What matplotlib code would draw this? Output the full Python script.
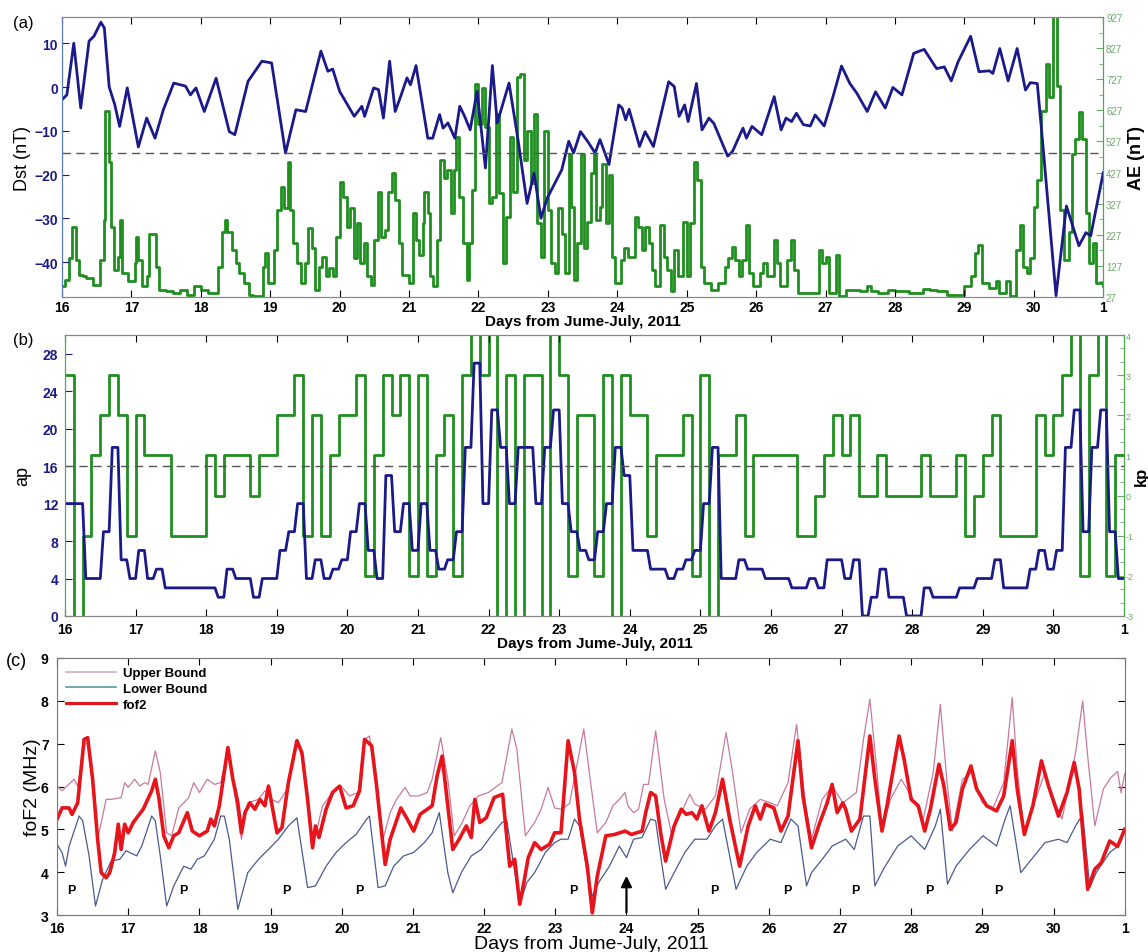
import matplotlib
matplotlib.use('Agg')
import matplotlib.pyplot as plt
import numpy as np
from matplotlib.ticker import FixedLocator, MultipleLocator
from matplotlib.lines import Line2D

plt.rcParams['font.family'] = ['Liberation Sans', 'DejaVu Sans']

# ---------------- data ----------------
day_ticks = list(range(16, 32))
day_labels = [str(d) for d in range(16, 31)] + ['1']

dst_pts = [(16.0, -2.9), (16.07, -1.8), (16.17, 10), (16.27, -4.8), (16.39, 10.5), (16.46, 11.6), (16.56, 14.8),
           (16.61, 13.5), (16.68, 0), (16.76, -4), (16.83, -9), (16.94, -0.2), (17.1, -13.7), (17.22, -7.1),
           (17.34, -11.7), (17.46, -5.2), (17.61, 0.9), (17.78, 0.2), (17.85, -1.8), (17.93, -0.2), (18.05, -5.6),
           (18.22, 2), (18.41, -10.2), (18.49, -10.9), (18.68, 1.3), (18.88, 5.9), (19.02, 5.5), (19.22, -15.1),
           (19.37, -5.2), (19.51, -5.6), (19.73, 8.2), (19.83, 3.6), (19.9, 4.1), (20.0, -1), (20.21, -6.7),
           (20.32, -4.4), (20.36, -6.7), (20.49, -0.2), (20.56, -0.6), (20.63, -7.1), (20.72, 5.9), (20.8, -5.6),
           (20.88, -2.1), (20.97, 2.1), (21.02, 0.5), (21.1, 4.9), (21.27, -11.7), (21.34, -11.7), (21.44, -6.3),
           (21.49, -9.4), (21.56, -8.2), (21.66, -11.7), (21.73, -4.4), (21.8, -6.7), (21.88, -9.8), (21.98, -1),
           (22.1, -18.5), (22.2, 4.9), (22.27, -8.2), (22.44, 0.9), (22.57, -12.1), (22.7, -26.6), (22.8, -19.7),
           (22.9, -30), (22.99, -25.4), (23.2, -18.9), (23.3, -12.4), (23.37, -15.1), (23.47, -10.2), (23.58, -12.6),
           (23.68, -15.1), (23.75, -12), (23.88, -17.7), (24.02, -4.1), (24.07, -4.8), (24.12, -7.5), (24.17, -5.1),
           (24.32, -13.6), (24.4, -10.2), (24.52, -13.6), (24.74, 1.2), (24.82, 0.1), (24.89, -6.7), (24.97, -4.1),
           (25.02, -7.9), (25.14, 0.8), (25.22, -9.8), (25.32, -7.1), (25.39, -8.3), (25.59, -15.8), (25.66, -14.7),
           (25.81, -9.4), (25.86, -11.7), (25.94, -9), (26.08, -10.9), (26.26, -2.2), (26.36, -9.8), (26.43, -7.1),
           (26.51, -7.9), (26.58, -6), (26.68, -8.6), (26.78, -8.9), (26.85, -6.4), (26.98, -8.9), (27.1, -2.6),
           (27.23, 4.8), (27.35, 0.8), (27.45, -1.4), (27.6, -5.6), (27.72, -1.1), (27.86, -4.8), (27.97, -0.1),
           (28.1, -1.8), (28.27, 7.7), (28.42, 8.6), (28.6, 4.2), (28.71, 4.6), (28.81, 1.4), (28.91, 5.8),
           (29.09, 11.6), (29.21, 3.5), (29.36, 3.7), (29.41, 3.1), (29.51, 8.8), (29.63, 1.4), (29.76, 8.8),
           (29.88, -0.7), (29.95, 1), (30.05, 0.8), (30.12, -11.3), (30.32, -47.7), (30.47, -27.2), (30.65, -36.3),
           (30.75, -33.3), (30.82, -34), (31.0, -19.6)]

ae_pts = [(16.0, 61), (16.05, 82), (16.1, 152), (16.15, 253), (16.2, 146), (16.25, 98), (16.3, 93), (16.35, 88),
          (16.45, 66), (16.55, 146), (16.6, 274), (16.62, 626), (16.67, 461), (16.7, 253), (16.75, 114), (16.8, 157),
          (16.83, 274), (16.87, 104), (16.95, 77), (17.05, 136), (17.07, 221), (17.1, 146), (17.15, 61), (17.22, 93),
          (17.25, 231), (17.35, 125), (17.4, 50), (17.5, 45), (17.6, 40), (17.7, 48), (17.8, 35), (17.9, 61),
          (18.0, 50), (18.1, 40), (18.25, 125), (18.3, 237), (18.35, 274), (18.38, 237), (18.45, 178), (18.5, 136),
          (18.55, 104), (18.62, 72), (18.7, 34), (18.75, 31), (18.9, 125), (18.93, 168), (18.97, 72), (19.05, 178),
          (19.1, 306), (19.15, 381), (19.2, 312), (19.25, 461), (19.28, 306), (19.33, 200), (19.38, 136), (19.45, 72),
          (19.5, 136), (19.55, 248), (19.6, 184), (19.65, 50), (19.7, 125), (19.75, 157), (19.8, 93), (19.85, 120),
          (19.9, 93), (19.95, 221), (20.0, 397), (20.05, 349), (20.1, 253), (20.15, 312), (20.2, 152), (20.25, 264),
          (20.3, 136), (20.35, 200), (20.4, 93), (20.45, 66), (20.5, 210), (20.55, 365), (20.6, 221), (20.65, 242),
          (20.7, 365), (20.75, 424), (20.8, 338), (20.85, 200), (20.9, 98), (21.0, 72), (21.05, 296), (21.1, 210),
          (21.15, 162), (21.2, 264), (21.22, 365), (21.27, 296), (21.3, 93), (21.35, 61), (21.4, 210), (21.45, 466),
          (21.5, 408), (21.55, 434), (21.6, 296), (21.65, 434), (21.68, 541), (21.72, 349), (21.78, 200), (21.83, 82),
          (21.87, 200), (21.9, 370), (21.95, 711), (22.0, 583), (22.05, 700), (22.1, 573), (22.15, 328), (22.2, 349),
          (22.25, 615), (22.3, 360), (22.35, 136), (22.4, 285), (22.45, 541), (22.5, 365), (22.55, 733), (22.6, 743),
          (22.65, 466), (22.7, 562), (22.75, 392), (22.8, 615), (22.85, 264), (22.9, 157), (22.95, 562), (23.0, 306),
          (23.05, 136), (23.1, 104), (23.15, 312), (23.2, 231), (23.25, 104), (23.3, 487), (23.33, 317), (23.37, 82),
          (23.42, 200), (23.47, 487), (23.52, 184), (23.57, 269), (23.62, 424), (23.67, 487), (23.7, 274),
          (23.75, 317), (23.78, 456), (23.83, 264), (23.88, 418), (23.92, 157), (23.97, 72), (24.05, 146),
          (24.1, 184), (24.15, 157), (24.25, 285), (24.3, 253), (24.35, 178), (24.4, 253), (24.45, 200), (24.5, 114),
          (24.55, 61), (24.62, 258), (24.67, 157), (24.72, 114), (24.77, 45), (24.82, 178), (24.87, 93), (24.95, 269),
          (25.0, 93), (25.05, 264), (25.1, 461), (25.15, 402), (25.2, 125), (25.25, 72), (25.35, 50), (25.45, 72),
          (25.55, 125), (25.6, 152), (25.65, 189), (25.7, 146), (25.75, 93), (25.8, 146), (25.85, 258), (25.9, 104),
          (25.95, 61), (26.05, 104), (26.1, 136), (26.15, 93), (26.25, 210), (26.3, 136), (26.35, 61), (26.45, 146),
          (26.5, 210), (26.55, 114), (26.6, 40), (26.9, 178), (26.95, 136), (27.0, 157), (27.05, 40), (27.15, 162),
          (27.2, 29), (27.3, 50), (27.5, 45), (27.6, 61), (27.65, 45), (27.75, 40), (27.9, 50), (28.0, 45),
          (28.2, 40), (28.4, 52), (28.5, 50), (28.6, 45), (28.75, 34), (29.0, 61), (29.1, 93), (29.15, 168),
          (29.2, 194), (29.25, 72), (29.35, 56), (29.45, 77), (29.5, 40), (29.6, 77), (29.65, 29), (29.75, 178),
          (29.8, 258), (29.85, 125), (29.9, 104), (29.95, 152), (30.0, 317), (30.05, 402), (30.1, 626), (30.17, 775),
          (30.22, 669), (30.27, 950), (30.33, 706), (30.38, 306), (30.43, 146), (30.5, 237), (30.55, 487),
          (30.6, 535), (30.65, 621), (30.7, 535), (30.75, 296), (30.8, 136), (30.85, 200), (30.9, 72), (31.0, 61)]

# 3-hourly ap and kp (from 16.0, one value per 3 h)
ap_vals = [12, 12, 4, 4, 9, 18, 6, 4,
           7, 4, 5, 3, 3, 3, 3, 3,
           3, 2, 5, 4, 4, 2, 4, 4,
           7, 9, 12, 4, 6, 4, 5, 6,
           9, 12, 7, 4, 15, 9, 12, 7,
           12, 7, 5, 6, 9, 18, 27, 12,
           22, 18, 12, 18, 18, 12, 18, 22,
           12, 9, 7, 6, 9, 12, 18, 15,
           7, 7, 5, 5, 4, 5, 6, 7,
           12, 18, 4, 4, 6, 5, 5, 4,
           4, 4, 3, 3, 4, 3, 6, 6,
           4, 6, 0, 2, 5, 2, 2, 0,
           0, 3, 2, 2, 2, 3, 3, 4,
           4, 6, 3, 3, 3, 5, 7, 5,
           7, 18, 22, 9, 18, 22, 9, 4]

kp_vals = [3, -4, -1, 1, 2, 3, 2, -1,
           2, 1, 1, 1, -1, -1, -1, -1,
           1, 0, 1, 1, 1, 0, 1, 1,
           2, 2, 3, -1, 2, -1, 1, 2,
           2, 3, -2, 1, 3, 2, 3, -2,
           3, -2, 1, 2, -2, 3, 5, 3,
           5, -4, 3, -4, 3, 3, -4, 5,
           3, -2, 2, 2, -2, 3, -4, 3,
           2, 2, -1, 1, 1, 1, 2, -2,
           3, -4, 1, 1, 2, -1, 1, 1,
           1, 1, 1, -1, -1, 0, 1, 2,
           1, 2, 0, 0, 1, 0, 0, 0,
           0, 1, 0, 0, 0, 1, -1, 0,
           1, 2, -1, -1, -1, -1, 2, 1,
           2, 3, 5, -2, 3, 5, -2, 1]
kp_ticks = [-3, -2, -1, 0, 1, 2, 3, 4]
kp_labels = ['-3', '-2', '-1', '0', '1', '2', '3', '4']

fof2_pts = [(16.0, 5.24), (16.07, 5.5), (16.17, 5.5), (16.21, 5.35), (16.29, 5.62), (16.38, 7.1), (16.43, 7.14),
            (16.5, 6.17), (16.57, 4.77), (16.62, 3.99), (16.69, 3.87), (16.74, 3.99), (16.81, 4.46), (16.86, 5.12),
            (16.9, 4.53), (16.95, 5.12), (17.0, 4.92), (17.07, 5.16), (17.21, 5.47), (17.33, 5.9), (17.38, 6.17),
            (17.43, 5.74), (17.5, 4.85), (17.57, 4.57), (17.64, 4.85), (17.71, 4.92), (17.83, 5.39), (17.9, 4.96),
            (18.0, 4.85), (18.11, 4.96), (18.16, 5.24), (18.21, 5.08), (18.28, 5.55), (18.4, 6.91), (18.47, 6.17),
            (18.54, 5.62), (18.59, 4.92), (18.64, 5.39), (18.71, 5.62), (18.78, 5.47), (18.85, 5.7), (18.92, 5.55),
            (18.97, 6.01), (19.02, 5.55), (19.09, 4.92), (19.16, 5.04), (19.25, 6.09), (19.37, 7.07), (19.44, 6.79),
            (19.52, 5.7), (19.59, 4.57), (19.63, 5.08), (19.68, 4.81), (19.78, 5.47), (19.87, 5.86), (19.97, 6.01),
            (20.06, 5.5), (20.16, 5.55), (20.25, 5.9), (20.32, 7.1), (20.42, 6.95), (20.49, 6.01), (20.56, 4.92),
            (20.61, 4.18), (20.68, 4.77), (20.83, 5.5), (20.92, 5.24), (21.01, 4.96), (21.1, 5.35), (21.27, 5.55),
            (21.34, 6.25), (21.41, 6.71), (21.49, 5.55), (21.56, 4.53), (21.65, 4.77), (21.75, 5.08), (21.82, 4.81),
            (21.87, 5.7), (21.94, 5.16), (22.03, 5.27), (22.14, 5.74), (22.26, 5.82), (22.31, 4.96), (22.36, 4.14),
            (22.43, 4.3), (22.5, 3.25), (22.55, 3.68), (22.62, 4.34), (22.71, 4.69), (22.8, 4.53), (22.92, 4.65),
            (22.99, 4.92), (23.08, 4.92), (23.18, 7.07), (23.27, 6.33), (23.34, 5.24), (23.45, 4.14), (23.52, 3.05),
            (23.59, 3.91), (23.71, 4.85), (23.83, 4.88), (23.98, 4.96), (24.07, 4.88), (24.22, 4.96), (24.27, 5.39),
            (24.34, 5.86), (24.41, 5.78), (24.48, 4.92), (24.55, 4.26), (24.67, 5.08), (24.77, 5.47), (24.84, 5.35),
            (24.92, 5.39), (24.99, 5.24), (25.06, 5.55), (25.16, 4.96), (25.25, 5.39), (25.35, 6.17), (25.45, 5.24),
            (25.59, 4.14), (25.71, 5.08), (25.81, 5.55), (25.88, 5.24), (25.95, 5.59), (26.07, 5.5), (26.17, 4.96),
            (26.27, 5.31), (26.41, 7.07), (26.48, 5.78), (26.6, 4.57), (26.7, 5.08), (26.82, 5.62), (26.89, 6.05),
            (26.96, 5.39), (27.04, 5.62), (27.08, 5.47), (27.16, 4.96), (27.28, 5.24), (27.42, 7.18), (27.49, 6.17),
            (27.59, 4.96), (27.66, 5.55), (27.83, 7.18), (27.9, 6.64), (28.0, 5.7), (28.1, 5.55), (28.19, 4.96),
            (28.27, 5.47), (28.39, 6.52), (28.46, 6.01), (28.55, 5.0), (28.63, 5.16), (28.72, 5.94), (28.84, 6.48),
            (28.92, 5.94), (29.06, 5.55), (29.2, 5.43), (29.3, 5.78), (29.42, 7.07), (29.49, 5.94), (29.59, 4.88),
            (29.71, 5.55), (29.83, 6.6), (29.93, 6.01), (30.07, 5.31), (30.19, 5.86), (30.29, 6.56), (30.36, 5.94),
            (30.48, 3.6), (30.58, 4.07), (30.67, 4.22), (30.79, 4.73), (30.9, 4.6), (31.0, 5.0)]

upper_pts = [(16.0, 6.01), (16.07, 5.9), (16.14, 6.01), (16.24, 6.17), (16.29, 6.01), (16.38, 6.95), (16.43, 7.03),
             (16.5, 6.01), (16.57, 4.77), (16.69, 5.7), (16.76, 5.7), (16.9, 5.74), (16.95, 6.09), (17.0, 5.98),
             (17.09, 6.17), (17.16, 6.01), (17.23, 6.09), (17.28, 6.05), (17.38, 6.83), (17.45, 6.33), (17.54, 4.92),
             (17.61, 4.85), (17.71, 5.5), (17.85, 5.74), (17.92, 6.09), (18.0, 5.86), (18.11, 6.17), (18.21, 6.05),
             (18.3, 6.09), (18.4, 6.87), (18.47, 6.09), (18.59, 4.77), (18.68, 5.62), (18.83, 5.7), (18.92, 5.9),
             (19.02, 5.7), (19.11, 5.62), (19.25, 5.98), (19.37, 7.1), (19.47, 6.52), (19.59, 4.57), (19.73, 5.55),
             (19.87, 5.86), (19.99, 6.01), (20.11, 5.78), (20.23, 5.86), (20.32, 7.1), (20.39, 7.18), (20.47, 6.33),
             (20.58, 4.77), (20.68, 5.39), (20.77, 5.7), (20.89, 5.98), (20.96, 5.78), (21.08, 5.78), (21.2, 5.86),
             (21.27, 6.17), (21.39, 7.14), (21.49, 6.17), (21.58, 4.85), (21.68, 5.12), (21.8, 5.55), (21.92, 5.78),
             (22.06, 5.86), (22.25, 6.09), (22.39, 7.34), (22.46, 6.87), (22.58, 4.85), (22.71, 5.16), (22.8, 5.47),
             (22.9, 5.98), (22.99, 5.5), (23.08, 5.47), (23.2, 5.6), (23.4, 7.34), (23.49, 6.17), (23.59, 4.92),
             (23.71, 5.16), (23.81, 5.55), (23.9, 5.7), (23.98, 5.86), (24.02, 5.55), (24.1, 5.39), (24.17, 5.47),
             (24.24, 6.05), (24.31, 6.05), (24.41, 7.3), (24.53, 5.7), (24.63, 4.92), (24.77, 5.39), (24.89, 5.82),
             (24.96, 5.59), (25.11, 5.47), (25.25, 5.78), (25.4, 7.26), (25.49, 6.33), (25.61, 4.92), (25.73, 5.47),
             (25.88, 5.7), (26.02, 5.62), (26.12, 5.55), (26.27, 6.09), (26.39, 7.45), (26.51, 5.62), (26.6, 4.77),
             (26.75, 5.7), (26.89, 6.01), (27.04, 5.62), (27.23, 5.86), (27.33, 7.1), (27.42, 8.04), (27.52, 6.33),
             (27.59, 5.0), (27.71, 5.7), (27.86, 6.17), (28.0, 5.78), (28.17, 5.24), (28.31, 6.33), (28.41, 7.92),
             (28.5, 6.17), (28.58, 4.96), (28.72, 6.17), (28.86, 6.33), (29.0, 5.62), (29.15, 5.5), (29.3, 6.09),
             (29.42, 8.08), (29.49, 6.4), (29.59, 4.88), (29.73, 5.62), (29.88, 6.33), (29.98, 5.78), (30.12, 5.24),
             (30.31, 6.79), (30.41, 8.0), (30.48, 6.71), (30.58, 5.08), (30.7, 5.94), (30.8, 6.2), (30.9, 6.35),
             (30.95, 5.85), (31.0, 6.3)]

lower_pts = [(16.0, 4.65), (16.07, 4.46), (16.12, 4.14), (16.17, 4.61), (16.31, 5.31), (16.36, 5.2), (16.45, 4.38),
             (16.54, 3.21), (16.64, 3.83), (16.76, 4.26), (16.88, 4.3), (16.97, 4.5), (17.12, 4.38), (17.19, 4.61),
             (17.33, 5.31), (17.38, 5.2), (17.45, 4.38), (17.54, 3.21), (17.64, 3.68), (17.78, 4.14), (17.88, 4.07),
             (17.97, 4.3), (18.07, 4.38), (18.21, 4.77), (18.3, 5.31), (18.35, 5.31), (18.42, 4.77), (18.54, 3.13),
             (18.68, 3.99), (18.83, 4.3), (18.97, 4.53), (19.11, 4.77), (19.25, 5.08), (19.37, 5.27), (19.52, 3.64),
             (19.63, 3.68), (19.78, 4.14), (19.92, 4.46), (20.06, 4.69), (20.2, 4.88), (20.35, 5.24), (20.39, 5.31),
             (20.51, 3.64), (20.61, 3.68), (20.73, 4.14), (20.87, 4.38), (21.01, 4.46), (21.16, 4.69), (21.27, 4.92),
             (21.37, 5.39), (21.49, 3.99), (21.56, 3.52), (21.68, 3.99), (21.82, 4.38), (21.96, 4.53), (22.1, 4.85),
             (22.25, 5.16), (22.32, 5.2), (22.41, 4.22), (22.5, 3.25), (22.6, 3.76), (22.71, 3.99), (22.86, 4.46),
             (22.99, 4.69), (23.08, 4.77), (23.18, 4.77), (23.27, 5.24), (23.34, 5.08), (23.45, 3.99), (23.52, 3.44),
             (23.61, 3.76), (23.76, 4.14), (23.9, 4.61), (24.0, 4.34), (24.1, 4.77), (24.22, 4.81), (24.34, 5.24),
             (24.41, 5.2), (24.48, 4.38), (24.55, 3.6), (24.67, 3.99), (24.82, 4.46), (24.96, 4.77), (25.13, 4.77),
             (25.25, 5.08), (25.35, 5.24), (25.45, 4.38), (25.54, 3.6), (25.69, 4.14), (25.83, 4.46), (26.02, 4.77),
             (26.17, 4.69), (26.31, 5.24), (26.41, 5.08), (26.53, 3.68), (26.6, 3.99), (26.75, 4.3), (26.89, 4.61),
             (27.08, 4.77), (27.2, 4.53), (27.33, 5.31), (27.42, 5.31), (27.49, 3.68), (27.61, 4.07), (27.81, 4.61),
             (28.0, 4.85), (28.19, 4.53), (28.34, 5.08), (28.41, 5.47), (28.51, 3.72), (28.63, 4.14), (28.82, 4.53),
             (29.01, 4.85), (29.2, 4.61), (29.32, 5.24), (29.39, 5.55), (29.54, 3.99), (29.69, 4.3), (29.88, 4.69),
             (30.07, 4.77), (30.19, 4.69), (30.31, 5.08), (30.41, 5.35), (30.51, 3.64), (30.6, 3.99), (30.79, 4.46),
             (30.9, 4.6), (31.0, 5.0)]

p_days = [16.2, 17.78, 19.22, 20.25, 23.25, 25.23, 26.26, 27.22, 28.25, 29.22]
arrow_day = 24.0

# ---------------- style ----------------
NAVY = '#1a1a8a'
GREEN = '#1f8f1f'
LGREEN = '#6aaa6a'
RED = '#e8141c'
PINK = '#c77a9e'
LOWC = '#4a5a90'
XLABEL = 'Days from Jume-July, 2011'


def unzip(pts):
    return [p[0] for p in pts], [p[1] for p in pts]


def style_x(ax, label, bold=True, size=11, pad=2):
    ax.set_xlim(16, 31)
    ax.xaxis.set_major_locator(FixedLocator(day_ticks))
    ax.set_xticklabels(day_labels, fontweight='bold', fontsize=10)
    ax.tick_params(axis='x', direction='in', top=True, length=5, pad=pad)
    ax.set_xlabel(label, fontsize=size, fontweight='bold' if bold else 'normal', labelpad=0)


fig = plt.figure(figsize=(11.48, 9.53), dpi=100)

# ---------------- panel (a) ----------------
axa = fig.add_axes([0.054, 0.6873, 0.907, 0.2938])
axa2 = axa.twinx()
dd, dv = unzip(dst_pts)
axa.plot(dd, dv, color=NAVY, lw=2)
axa.axhline(-15, color='#555555', ls=(0, (6, 4)), lw=1)
axa.set_ylim(-48, 16)
axa.yaxis.set_major_locator(FixedLocator([-40, -30, -20, -10, 0, 10]))
axa.tick_params(axis='y', direction='in', colors=NAVY, labelsize=10, length=5, pad=3)
for t in axa.get_yticklabels():
    t.set_fontweight('bold')
axa.set_ylabel('Dst (nT)', fontsize=13, labelpad=2)
style_x(axa, XLABEL)
ad, av = unzip(ae_pts)
axa2.step(ad, av, where='post', color=GREEN, lw=2)
axa2.set_ylim(27, 927)
axa2.yaxis.set_major_locator(FixedLocator(list(range(27, 928, 100))))
axa2.yaxis.set_minor_locator(FixedLocator(list(range(77, 928, 100))))
axa2.tick_params(axis='y', which='both', direction='in', colors=LGREEN, labelsize=7, length=5, pad=2)
axa2.tick_params(axis='y', which='minor', length=3)
axa2.set_ylabel('AE (nT)', fontsize=13, fontweight='bold', labelpad=4)
axa.set_zorder(axa2.get_zorder() + 1)
axa.patch.set_visible(False)
for ax in (axa, axa2):
    ax.spines['left'].set_color('#5a78c8')
    ax.spines['right'].set_color('#4caa4c')
    ax.spines['top'].set_color('#888888')
    ax.spines['bottom'].set_color('#888888')

# ---------------- panel (b) ----------------
axb = fig.add_axes([0.0566, 0.3526, 0.9225, 0.2948])
axb2 = axb.twinx()
slot = 0.125
ramp = 0.045
t0 = 16 + np.arange(len(ap_vals)) * slot
ap_x = np.ravel(np.column_stack([t0 + ramp, t0 + slot]))
ap_x[0] = 16.0
ap_y = np.repeat(ap_vals, 2)
axb.plot(ap_x, ap_y, color=NAVY, lw=2)
axb.axhline(16, color='#555555', ls=(0, (6, 4)), lw=1)
axb.set_ylim(0, 30)
axb.yaxis.set_major_locator(FixedLocator(list(range(0, 29, 4))))
axb.tick_params(axis='y', direction='in', colors=NAVY, labelsize=10, length=5, pad=5)
for t in axb.get_yticklabels():
    t.set_fontweight('bold')
axb.set_ylabel('ap', fontsize=13, labelpad=8)
style_x(axb, XLABEL, pad=4)
kx = np.append(t0, 31.0)
ky = np.append(kp_vals, kp_vals[-1])
axb2.step(kx, ky, where='post', color=GREEN, lw=2)
axb2.set_ylim(-3, 4)
axb2.yaxis.set_major_locator(FixedLocator(kp_ticks))
axb2.set_yticklabels(kp_labels)
axb2.yaxis.set_minor_locator(MultipleLocator(1 / 3))
axb2.tick_params(axis='y', which='both', direction='in', colors=LGREEN, labelsize=6.5, length=5, pad=1)
axb2.tick_params(axis='y', which='minor', length=3)
axb2.set_ylabel('kp', fontsize=12, fontweight='bold', labelpad=0)
axb.set_zorder(axb2.get_zorder() + 1)
axb.patch.set_visible(False)
for ax in (axb, axb2):
    ax.spines['left'].set_color('#4caa4c')
    ax.spines['right'].set_color('#4caa4c')
    ax.spines['top'].set_color('#888888')
    ax.spines['bottom'].set_color('#888888')

# ---------------- panel (c) ----------------
axc = fig.add_axes([0.0497, 0.0388, 0.930, 0.2697])
ud, uv = unzip(upper_pts)
ld, lv = unzip(lower_pts)
fd, fv = unzip(fof2_pts)
axc.plot(ud, uv, color=PINK, lw=0.9)
axc.plot(ld, lv, color=LOWC, lw=0.9)
axc.plot(fd, fv, color=RED, lw=2.6)
axc.set_ylim(3, 9)
axc.yaxis.set_major_locator(FixedLocator(list(range(3, 10))))
axc.tick_params(axis='y', direction='in', labelsize=10, length=5, pad=6, right=True)
for t in axc.get_yticklabels():
    t.set_fontweight('bold')
axc.set_ylabel('foF2 (MHz)', fontsize=14, labelpad=0)
style_x(axc, XLABEL, bold=False, size=14, pad=4)
for d in p_days:
    axc.text(d, 3.45, 'P', fontsize=9, fontweight='bold', ha='center', va='bottom')
axc.annotate('', xy=(arrow_day, 3.98), xytext=(arrow_day, 3.0),
             arrowprops=dict(arrowstyle='-|>', color='black', lw=1.6, mutation_scale=16))
handles = [Line2D([], [], color='#d0b0c0', lw=1.2),
           Line2D([], [], color='#5a9a9a', lw=1.2),
           Line2D([], [], color=RED, lw=2.2)]
axc.legend(handles, ['Upper Bound', 'Lower Bound', 'fof2'], loc='upper left', frameon=False,
           prop={'weight': 'bold', 'size': 9.5}, handlelength=3.8, borderaxespad=0.3,
           labelspacing=0.25, handletextpad=0.5)
for s in axc.spines.values():
    s.set_color('#777777')

# panel labels
fig.text(0.011, 0.975, '(a)', fontsize=12, va='center')
fig.text(0.011, 0.643, '(b)', fontsize=12, va='center')
fig.text(0.005, 0.306, '(c)', fontsize=13, va='center')

fig.savefig('out.png', dpi=100)
